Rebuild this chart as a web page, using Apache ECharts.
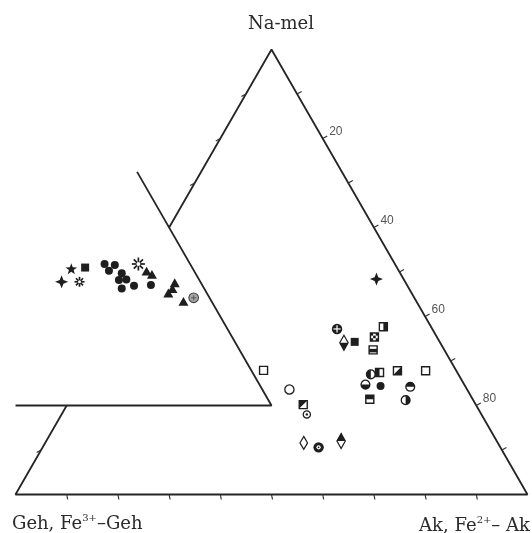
<!DOCTYPE html>
<html><head><meta charset="utf-8">
<script src="https://cdn.jsdelivr.net/npm/echarts@6/dist/echarts.min.js"></script>
<style>html,body{margin:0;padding:0;background:#fff}#c{width:532px;height:533px}</style>
</head><body><div id="c"></div>
<script>
// ---- data: ternary compositions [Ak %, Na-mel %]  (Geh = 100 - Ak - Na-mel) ----
const apexLabel = 'Na-mel';
const leftLabel = 'Geh, Fe{s|3+}–Geh';
const rightLabel = 'Ak, Fe{s|2+}– Ak';
const akTickLabels = [20, 40, 60, 80];
const rightEdgeTicks = [10, 20, 30, 40, 50, 60, 70, 80, 90];
const baseTicks = [10, 20, 30, 40, 50, 60, 70, 80, 90];
const leftEdgeTicks = [10, 70, 80, 90];
// frame outline (triangle with the cut-out for the expanded inset)
const frameOuter = [[0, 20], [0, 0], [100, 0], [0, 100], [0, 60]];
const insetFrame = [[-10, 20], [40, 20], [-12.5, 72.5]];

// inset (expanded-scale) points
const insetCross = [[-14.9, 47.8]];
const insetStar = [[-14.4, 50.6]];
const insetSquare = [[-11.9, 51.0]];
const insetAsteriskSmall = [[-11.4, 47.8]];
const insetCircles = [[-8.5, 51.8], [-6.4, 51.6], [-6.9, 50.3], [-4.1, 49.7], [-3.9, 48.2], [-2.5, 48.3], [-2.4, 46.3], [-0.3, 46.9], [2.9, 47.1]];
const insetAsteriskLarge = [[-1.9, 51.8]];
const insetTriangles = [[0.6, 50.0], [2.0, 49.3], [7.4, 47.4], [7.6, 46.1], [7.3, 45.1], [11.2, 43.2]];
const insetGreyCircle = [[12.7, 44.2]];

// main field points
const boldCross = [[46.3, 48.4]];
const darkCrossCircle = [[44.2, 37.2]];
const diamondBottomFilled = [[47.1, 34.1]];
const filledSquare = [[49.1, 34.3]];
const halfSquareRight = [[53.0, 37.7]];
const checkSquare = [[52.4, 35.4]];
const bandSquare = [[53.6, 32.5]];
const openSquare = [[34.5, 27.9], [66.2, 27.8]];
const openCircle = [[41.7, 23.6]];
const cornerSquare = [[46.1, 20.2]];
const ringCircle = [[47.9, 18.0]];
const openDiamond = [[50.5, 11.6]];
const darkRingCircle = [[53.9, 10.6]];
const diamondTopFilled = [[57.6, 12.0]];
const halfCircleLeft = [[55.9, 27.0]];
const halfSquareLeft = [[57.4, 27.4]];
const diagSquare = [[60.7, 27.8]];
const halfCircleBottom = [[56.0, 24.7]];
const filledCircle = [[59.1, 24.4]];
const halfCircleTop = [[65.0, 24.2]];
const topHalfSquare = [[58.5, 21.4]];
const halfCircleRight = [[65.6, 21.2]];

// ---- rendering ----
const INK = '#1e1e1e';
const xy = d => [d[0] + d[1] / 2, d[1]];
const pts = arr => arr.map(xy);

const C = (r, fill, stroke, lw) => ({type: 'circle', shape: {cx: 0, cy: 0, r}, style: {fill: fill || 'none', stroke: stroke || 'none', lineWidth: lw || 0}});
const R = (x, y, w, h, fill, stroke, lw) => ({type: 'rect', shape: {x, y, width: w, height: h}, style: {fill: fill || 'none', stroke: stroke || 'none', lineWidth: lw || 0}});
const P = (points, fill, stroke, lw) => ({type: 'polygon', shape: {points}, style: {fill: fill || 'none', stroke: stroke || 'none', lineWidth: lw || 0}});
const L = (x1, y1, x2, y2, stroke, lw) => ({type: 'line', shape: {x1, y1, x2, y2}, style: {stroke, lineWidth: lw}});
const S = (r, a0, a1, fill) => ({type: 'sector', shape: {cx: 0, cy: 0, r, r0: 0, startAngle: a0, endAngle: a1}, style: {fill}});

function starPts(n, ro, ri, rot) {
  const out = [];
  for (let i = 0; i < 2 * n; i++) {
    const a = rot + i * Math.PI / n;
    const r = i % 2 ? ri : ro;
    out.push([r * Math.cos(a), r * Math.sin(a)]);
  }
  return out;
}
const PI = Math.PI;
const sqOutline = () => R(-4, -4, 8, 8, 'none', INK, 1.4);
const circOutline = () => C(4.4, '#fff', INK, 1.3);

const draw = {
  dot: () => [C(4, INK)],
  openCircle: () => [C(4.6, '#fff', INK, 1.3)],
  square: () => [R(-4, -4, 8, 8, INK)],
  openSquare: () => [R(-4, -4, 8, 8, '#fff', INK, 1.4)],
  star5: () => [P(starPts(5, 6, 2.5, -PI / 2), INK)],
  star4: () => [P(starPts(4, 6.5, 2.6, 0), INK)],
  asterisk: (r) => () => {
    const c = [];
    for (let k = 0; k < 4; k++) {
      const a = k * PI / 4;
      c.push(L(-r * Math.cos(a), -r * Math.sin(a), r * Math.cos(a), r * Math.sin(a), INK, 1.7));
    }
    c.push(C(r * 0.3, '#fff'));
    return c;
  },
  triangle: () => [P([[0, -5.2], [5, 3.6], [-5, 3.6]], INK)],
  greyCircle: () => [C(4.8, '#a5a5a5', '#444', 1.1), L(-2.5, 0, 2.5, 0, '#555', 1), L(0, -2.5, 0, 2.5, '#555', 1)],
  darkCross: () => [C(5.2, INK), L(-3.6, 0, 3.6, 0, '#fff', 1.2), L(0, -3.6, 0, 3.6, '#fff', 1.2)],
  diamondBottom: () => [P([[0, -7.5], [4.2, 0], [0, 7.5], [-4.2, 0]], '#fff', INK, 1.2), P([[-4.2, 0], [4.2, 0], [0, 7.5]], INK)],
  diamondTop: () => [P([[0, -7.5], [4.2, 0], [0, 7.5], [-4.2, 0]], '#fff', INK, 1.2), P([[-4.2, 0], [4.2, 0], [0, -7.5]], INK)],
  openDiamond: () => [P([[0, -6.5], [3.8, 0], [0, 6.5], [-3.8, 0]], '#fff', INK, 1.2)],
  halfSqRight: () => [R(-4, -4, 8, 8, '#fff'), R(0, -4, 4, 8, INK), sqOutline()],
  halfSqLeft: () => [R(-4, -4, 8, 8, '#fff'), R(-4, -4, 4, 8, INK), sqOutline()],
  topHalfSq: () => [R(-4, -4, 8, 8, '#fff'), R(-4, -4, 8, 4, INK), sqOutline()],
  bandSq: () => [R(-4, -4, 8, 8, '#fff'), R(-4, -1, 8, 3.5, INK), sqOutline()],
  cornerSq: () => [R(-4, -4, 8, 8, '#fff'), P([[-4, -4], [4, -4], [-4, 4]], INK), sqOutline()],
  diagSq: () => [R(-4, -4, 8, 8, '#fff'), P([[4, -4], [4, 4], [-4, 4]], INK), sqOutline()],
  checkSq: () => {
    const c = [R(-4, -4, 8, 8, '#fff')];
    const cells = [[0, 0], [2, 0], [1, 1], [0, 2], [2, 2]];
    cells.forEach(([i, j]) => c.push(R(-4 + i * 8 / 3, -4 + j * 8 / 3, 8 / 3, 8 / 3, INK)));
    c.push(sqOutline());
    return c;
  },
  ringSmall: () => [C(3.6, '#fff', INK, 1.3), C(1.2, INK)],
  darkRing: () => [C(5.2, INK), C(2.1, '#fff'), C(0.9, INK)],
  halfCLeft: () => [circOutline(), S(4.4, PI / 2, 3 * PI / 2, INK)],
  halfCRight: () => [circOutline(), S(4.4, -PI / 2, PI / 2, INK)],
  halfCTop: () => [circOutline(), S(4.4, PI, 2 * PI, INK)],
  halfCBottom: () => [circOutline(), S(4.4, 0, PI, INK)]
};

function markerSeries(data, fn) {
  return {
    type: 'custom', coordinateSystem: 'cartesian2d', silent: true, z: 5, clip: false,
    data: pts(data),
    renderItem: (params, api) => {
      const p = api.coord([api.value(0), api.value(1)]);
      return {type: 'group', x: p[0], y: p[1], children: fn()};
    }
  };
}

function tickSeries(data, dx, dy) {
  return {
    type: 'custom', coordinateSystem: 'cartesian2d', silent: true, z: 4, clip: false,
    data: pts(data),
    renderItem: (params, api) => {
      const p = api.coord([api.value(0), api.value(1)]);
      return {type: 'line', shape: {x1: p[0], y1: p[1], x2: p[0] + dx, y2: p[1] + dy}, style: {stroke: '#333', lineWidth: 1.2}};
    }
  };
}

function frameSeries(data) {
  return {type: 'line', data: pts(data), symbol: 'none', clip: false, silent: true, z: 3,
    lineStyle: {color: '#252525', width: 1.8}, animation: false};
}

const series = [
  frameSeries(frameOuter),
  frameSeries(insetFrame),
  tickSeries(baseTicks.map(t => [t, 0]), 1, 5),
  tickSeries(rightEdgeTicks.map(t => [t, 100 - t]), 4.5, -2.5),
  tickSeries(leftEdgeTicks.map(t => [0, t]), -4.5, 2.5),
  {
    type: 'custom', coordinateSystem: 'cartesian2d', silent: true, z: 4, clip: false,
    data: akTickLabels.map(t => xy([t, 100 - t]).concat([t])),
    renderItem: (params, api) => {
      const p = api.coord([api.value(0), api.value(1)]);
      return {type: 'text', x: p[0] + 6.5, y: p[1] - 7,
        style: {text: String(api.value(2)), font: '12px "Liberation Sans", sans-serif', fill: '#555', align: 'left', verticalAlign: 'middle'}};
    }
  },
  markerSeries(insetCross, draw.star4),
  markerSeries(insetStar, draw.star5),
  markerSeries(insetSquare, draw.square),
  markerSeries(insetAsteriskSmall, draw.asterisk(5)),
  markerSeries(insetCircles, draw.dot),
  markerSeries(insetAsteriskLarge, draw.asterisk(6.5)),
  markerSeries(insetTriangles, draw.triangle),
  markerSeries(insetGreyCircle, draw.greyCircle),
  markerSeries(boldCross, draw.star4),
  markerSeries(darkCrossCircle, draw.darkCross),
  markerSeries(diamondBottomFilled, draw.diamondBottom),
  markerSeries(filledSquare, draw.square),
  markerSeries(halfSquareRight, draw.halfSqRight),
  markerSeries(checkSquare, draw.checkSq),
  markerSeries(bandSquare, draw.bandSq),
  markerSeries(openSquare, draw.openSquare),
  markerSeries(openCircle, draw.openCircle),
  markerSeries(cornerSquare, draw.cornerSq),
  markerSeries(ringCircle, draw.ringSmall),
  markerSeries(openDiamond, draw.openDiamond),
  markerSeries(darkRingCircle, draw.darkRing),
  markerSeries(diamondTopFilled, draw.diamondTop),
  markerSeries(halfCircleLeft, draw.halfCLeft),
  markerSeries(halfSquareLeft, draw.halfSqLeft),
  markerSeries(diagSquare, draw.diagSq),
  markerSeries(halfCircleBottom, draw.halfCBottom),
  markerSeries(filledCircle, draw.dot),
  markerSeries(halfCircleTop, draw.halfCTop),
  markerSeries(topHalfSquare, draw.topHalfSq),
  markerSeries(halfCircleRight, draw.halfCRight)
];

const labelFont = '"DejaVu Serif", serif';
const chart = echarts.init(document.getElementById('c'), null, {renderer: 'canvas'});
chart.setOption({
  animation: false,
  backgroundColor: '#fff',
  grid: {left: 15.5, top: 49.5, width: 512, height: 445},
  xAxis: {type: 'value', min: 0, max: 100, show: false},
  yAxis: {type: 'value', min: 0, max: 100, show: false},
  graphic: [
    {type: 'text', x: 281, y: 24, style: {text: apexLabel, font: '18px ' + labelFont, fill: '#2a2a2a', align: 'center', verticalAlign: 'middle'}},
    {type: 'text', x: 12, y: 524, style: {text: leftLabel, fontFamily: 'DejaVu Serif', fontSize: 18, fill: '#2a2a2a', align: 'left', verticalAlign: 'middle', lineHeight: 22,
      rich: {s: {fontSize: 10, fontFamily: 'DejaVu Serif', fill: '#2a2a2a', verticalAlign: 'top', lineHeight: 22}}}},
    {type: 'text', x: 530, y: 526, style: {text: rightLabel, fontFamily: 'DejaVu Serif', fontSize: 18, fill: '#2a2a2a', align: 'right', verticalAlign: 'middle', lineHeight: 22,
      rich: {s: {fontSize: 10, fontFamily: 'DejaVu Serif', fill: '#2a2a2a', verticalAlign: 'top', lineHeight: 22}}}}
  ],
  series: series
});
</script>
</body></html>
